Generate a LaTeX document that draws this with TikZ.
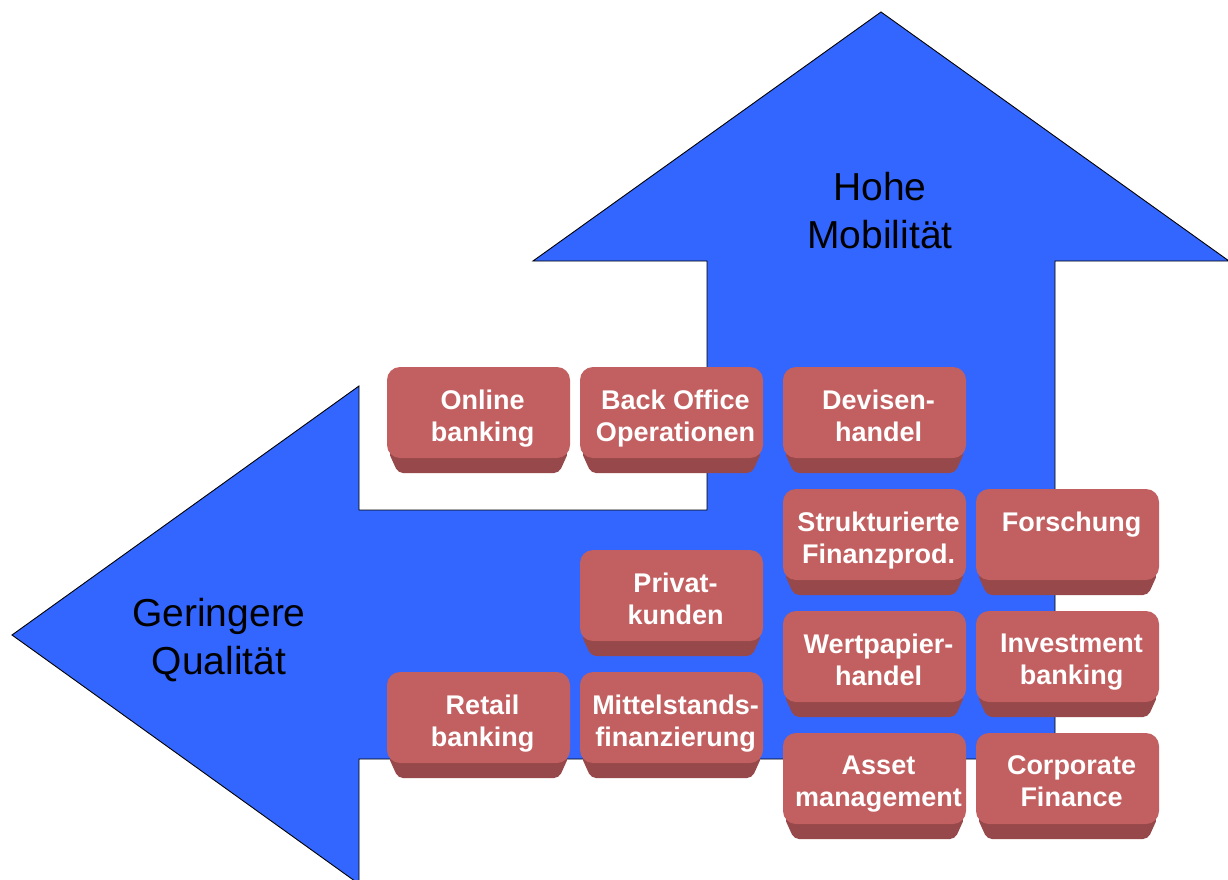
\documentclass[tikz,border=0pt]{standalone}
\usepackage{fontspec}
\setmainfont{Liberation Sans}
\definecolor{arrowblue}{RGB}{51,102,255}
\definecolor{facecol}{RGB}{194,95,96}
\definecolor{bandcol}{RGB}{150,72,74}
\tikzset{
  arrowshape/.style={fill=arrowblue, draw=black, line width=0.9pt, line join=miter},
  facebox/.style={fill=facecol, draw=none, rounded corners=13pt, minimum width=183pt, minimum height=91pt, inner sep=0pt, outer sep=0pt},
  bandfill/.style={fill=bandcol, draw=none},
  boxtext/.style={font=\bfseries\fontsize{27}{32}\selectfont, text=white, align=center, anchor=north, inner sep=0pt},
  bigtext/.style={font=\fontsize{39}{48}\selectfont, text=black, align=center, anchor=north, inner sep=0pt}
}
\newcommand{\bankbox}[4]{%
  \path[bandfill, rounded corners=5pt] (#2+1,#3+84) -- (#2+11,#3+106) -- (#2+172,#3+106) -- (#2+182,#3+84) -- cycle;
  \node[facebox, anchor=north west] (#1) at (#2,#3) {};
  \node[boxtext] (#1-t) at ([xshift=4pt,yshift=-22.7pt]#1.north) {#4};
}
\begin{document}
\begin{tikzpicture}[x=1pt,y=-1pt]
\useasboundingbox (0,0) rectangle (1228,880);
\begin{scope}
\clip (0,0) rectangle (1228,880);
\path[arrowshape] (12,635) -- (359,386) -- (359,510) -- (707,510) -- (707,261) -- (533,261) -- (881,12) -- (1229,261) -- (1055,261) -- (1055,759) -- (359,759) -- (359,884) -- cycle;
\end{scope}
\node[bigtext] (hohe) at (880,172) {Hohe\\Mobilität};
\node[bigtext] (geringere) at (219,598) {Geringere\\Qualität};
\bankbox{online}{387}{367}{Online\\banking}
\bankbox{backoffice}{580}{367}{Back Office\\Operationen}
\bankbox{devisen}{783}{367}{Devisen-\\handel}
\bankbox{struktur}{783}{489}{Strukturierte\\Finanzprod.}
\bankbox{forschung}{976}{489}{Forschung}
\bankbox{privat}{580}{550}{Privat-\\kunden}
\bankbox{wertpapier}{783}{611}{Wertpapier-\\handel}
\bankbox{investment}{976}{611}{Investment\\banking}
\bankbox{retail}{387}{672}{Retail\\banking}
\bankbox{mittelstand}{580}{672}{Mittelstands-\\finanzierung}
\bankbox{asset}{783}{733}{Asset\\management}
\bankbox{corporate}{976}{733}{Corporate\\Finance}
\end{tikzpicture}
\end{document}
